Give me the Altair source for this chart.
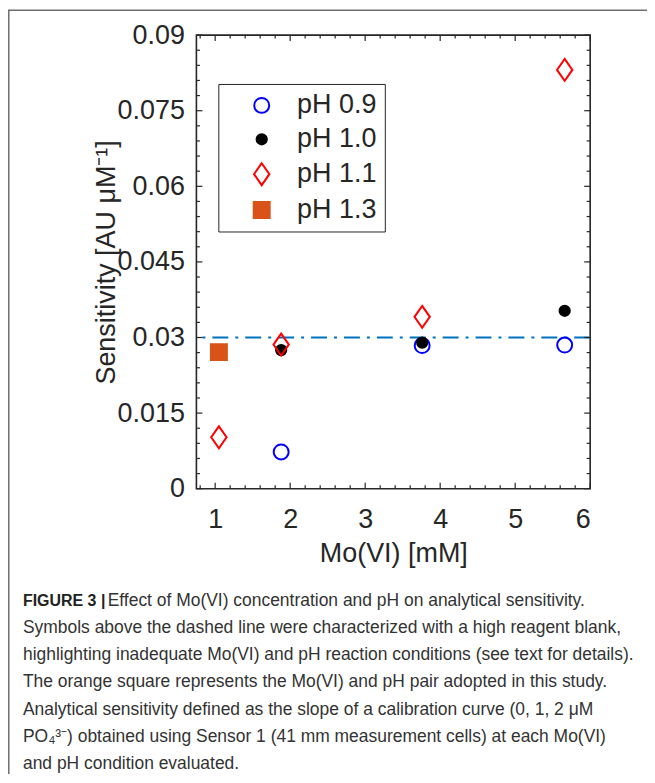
import altair as alt
import pandas as pd

# ---------------- data ----------------
series_names = ["pH 0.9", "pH 1.0", "pH 1.1", "pH 1.3"]
ph09_x = [1.88, 3.76, 5.66]
ph09_y = [0.0073, 0.0284, 0.0285]
ph10_x = [1.88, 3.76, 5.66]
ph10_y = [0.0275, 0.0290, 0.0353]
ph11_x = [1.05, 1.88, 3.76, 5.66]
ph11_y = [0.0102, 0.0286, 0.0341, 0.0831]
ph13_x = [1.05]
ph13_y = [0.0271]
threshold = 0.03

x_major = [1, 2, 3, 4, 5, 6]
x_minor = [round(0.8 + 0.2 * i, 1) for i in range(27) if abs((0.8 + 0.2 * i) - round(0.8 + 0.2 * i)) > 1e-6]
y_major = [0, 0.015, 0.03, 0.045, 0.06, 0.075, 0.09]
y_minor = [round(0.003 * i, 3) for i in range(1, 30) if i % 5]

caption_bold = "FIGURE 3 |"
caption_first = "Effect of Mo(VI) concentration and pH on analytical sensitivity."
caption_rest = [
    "Symbols above the dashed line were characterized with a high reagent blank,",
    "highlighting inadequate Mo(VI) and pH reaction conditions (see text for details).",
    "The orange square represents the Mo(VI) and pH pair adopted in this study.",
    "Analytical sensitivity defined as the slope of a calibration curve (0, 1, 2 \u03bcM",
    "PO\u2084\u00b3\u207b) obtained using Sensor 1 (41 mm measurement cells) at each Mo(VI)",
    "and pH condition evaluated.",
]

rows = []
for name, xs, ys in [
    ("pH 0.9", ph09_x, ph09_y),
    ("pH 1.0", ph10_x, ph10_y),
    ("pH 1.1", ph11_x, ph11_y),
    ("pH 1.3", ph13_x, ph13_y),
]:
    for xv, yv in zip(xs, ys):
        rows.append({"mo": xv, "sens": yv, "series": name})
df = pd.DataFrame(rows)
df["order"] = df["series"].map({n: i for i, n in enumerate(series_names)})

W, H = 395, 455
FONT = "Liberation Sans"
AX = "#262626"
CAP = 17.5

xscale = alt.Scale(domain=[0.75, 6], nice=False, zero=False)
yscale = alt.Scale(domain=[0, 0.09], nice=False, zero=True)

diamond = "M0,-1L0.7,0L0,1L-0.7,0Z"
leg = alt.Legend(
    title=None, orient="none", legendX=22, legendY=49, padding=8,
    fillColor="white", strokeColor=AX,
    labelFontSize=27, labelFont=FONT, labelColor=AX,
    symbolOffset=22, labelOffset=22, rowPadding=6, symbolStrokeWidth=2,
)

points = alt.Chart(df).mark_point(opacity=1, strokeWidth=2).encode(
    x=alt.X("mo:Q", scale=xscale,
            axis=alt.Axis(values=x_major, format="d", labelFontSize=27, labelPadding=18,
                          title="Mo(VI) [mM]", titleFontSize=27, titleFontWeight="normal",
                          titleBaseline="alphabetic", titleY=73)),
    y=alt.Y("sens:Q", scale=yscale,
            axis=alt.Axis(values=y_major, format=".3~f", labelFontSize=27, labelPadding=12,
                          title="Sensitivity [AU \u03bcM\u207b\u00b9]", titleFontSize=27,
                          titleFontWeight="normal", titleBaseline="alphabetic",
                          titleX=-82, titleY=H / 2)),
    shape=alt.Shape("series:N", scale=alt.Scale(domain=series_names, range=["circle", "circle", diamond, "square"]), legend=leg),
    stroke=alt.Stroke("series:N", scale=alt.Scale(domain=series_names, range=["#0000FF", "#000000", "#FF0000", "#D95319"]), legend=leg),
    fill=alt.Fill("series:N", scale=alt.Scale(domain=series_names, range=["transparent", "#000000", "transparent", "#D95319"]), legend=leg),
    size=alt.Size("series:N", scale=alt.Scale(type="ordinal", domain=series_names, range=[225, 106, 484, 256]), legend=leg),
    order="order:Q",
)

hline = alt.Chart(pd.DataFrame({"t": [threshold]})).mark_rule(
    color="#0072BD", strokeWidth=1.8, strokeDash=[16, 7, 3, 7]
).encode(y=alt.Y("t:Q", scale=yscale))

def xticks(vals, length):
    d = pd.DataFrame({"v": vals})
    b = alt.Chart(d).mark_rule(color=AX, strokeWidth=1.2).encode(
        x=alt.X("v:Q", scale=xscale), y=alt.value(H), y2=alt.value(H - length))
    t = alt.Chart(d).mark_rule(color=AX, strokeWidth=1.2).encode(
        x=alt.X("v:Q", scale=xscale), y=alt.value(0), y2=alt.value(length))
    return [b, t]

def yticks(vals, length):
    d = pd.DataFrame({"v": vals})
    l = alt.Chart(d).mark_rule(color=AX, strokeWidth=1.2).encode(
        y=alt.Y("v:Q", scale=yscale), x=alt.value(0), x2=alt.value(length))
    r = alt.Chart(d).mark_rule(color=AX, strokeWidth=1.2).encode(
        y=alt.Y("v:Q", scale=yscale), x=alt.value(W), x2=alt.value(W - length))
    return [l, r]

tick_layers = xticks(x_major, 6) + xticks(x_minor, 3.5) + yticks(y_major, 6) + yticks(y_minor, 3.5)

RIGHT = 57
# figure frame (top and left border)
frame_top = alt.Chart(pd.DataFrame({"a": [0]})).mark_rule(color="#6e6e6e", strokeWidth=1.5).encode(
    x=alt.value(-189), x2=alt.value(W + RIGHT), y=alt.value(-25))
frame_left = alt.Chart(pd.DataFrame({"a": [0]})).mark_rule(color="#6e6e6e", strokeWidth=1.5).encode(
    x=alt.value(-188.2), y=alt.value(-25), y2=alt.value(H + 300))

cap_bold = alt.Chart(pd.DataFrame({"t": [caption_bold]})).mark_text(
    font=FONT, fontSize=16, fontWeight="bold", color="#222222", align="left", baseline="alphabetic"
).encode(text="t:N", x=alt.value(-174), y=alt.value(573))
cap_first = alt.Chart(pd.DataFrame({"t": [caption_first]})).mark_text(
    font=FONT, fontSize=CAP, color="#333333", align="left", baseline="alphabetic"
).encode(text="t:N", x=alt.value(-89), y=alt.value(573))
cap_rest = alt.Chart(pd.DataFrame({"t": [caption_rest]})).mark_text(
    font=FONT, fontSize=CAP, color="#333333", align="left", baseline="alphabetic", lineHeight=27.2
).encode(text="t", x=alt.value(-174), y=alt.value(600))

chart = alt.layer(
    hline, *tick_layers, points, frame_top, frame_left, cap_bold, cap_first, cap_rest
).properties(
    width=W, height=H,
    padding={"left": 189, "top": 26, "right": RIGHT, "bottom": 285},
    autosize=alt.AutoSizeParams(type="none"),
    background="white",
).configure_view(
    stroke=AX, strokeWidth=1.6
).configure_axis(
    ticks=False, domain=False, grid=False, labelFont=FONT, titleFont=FONT,
    labelColor=AX, titleColor=AX,
)

chart.save("out.html", embed_options={"renderer": "svg", "actions": False})
